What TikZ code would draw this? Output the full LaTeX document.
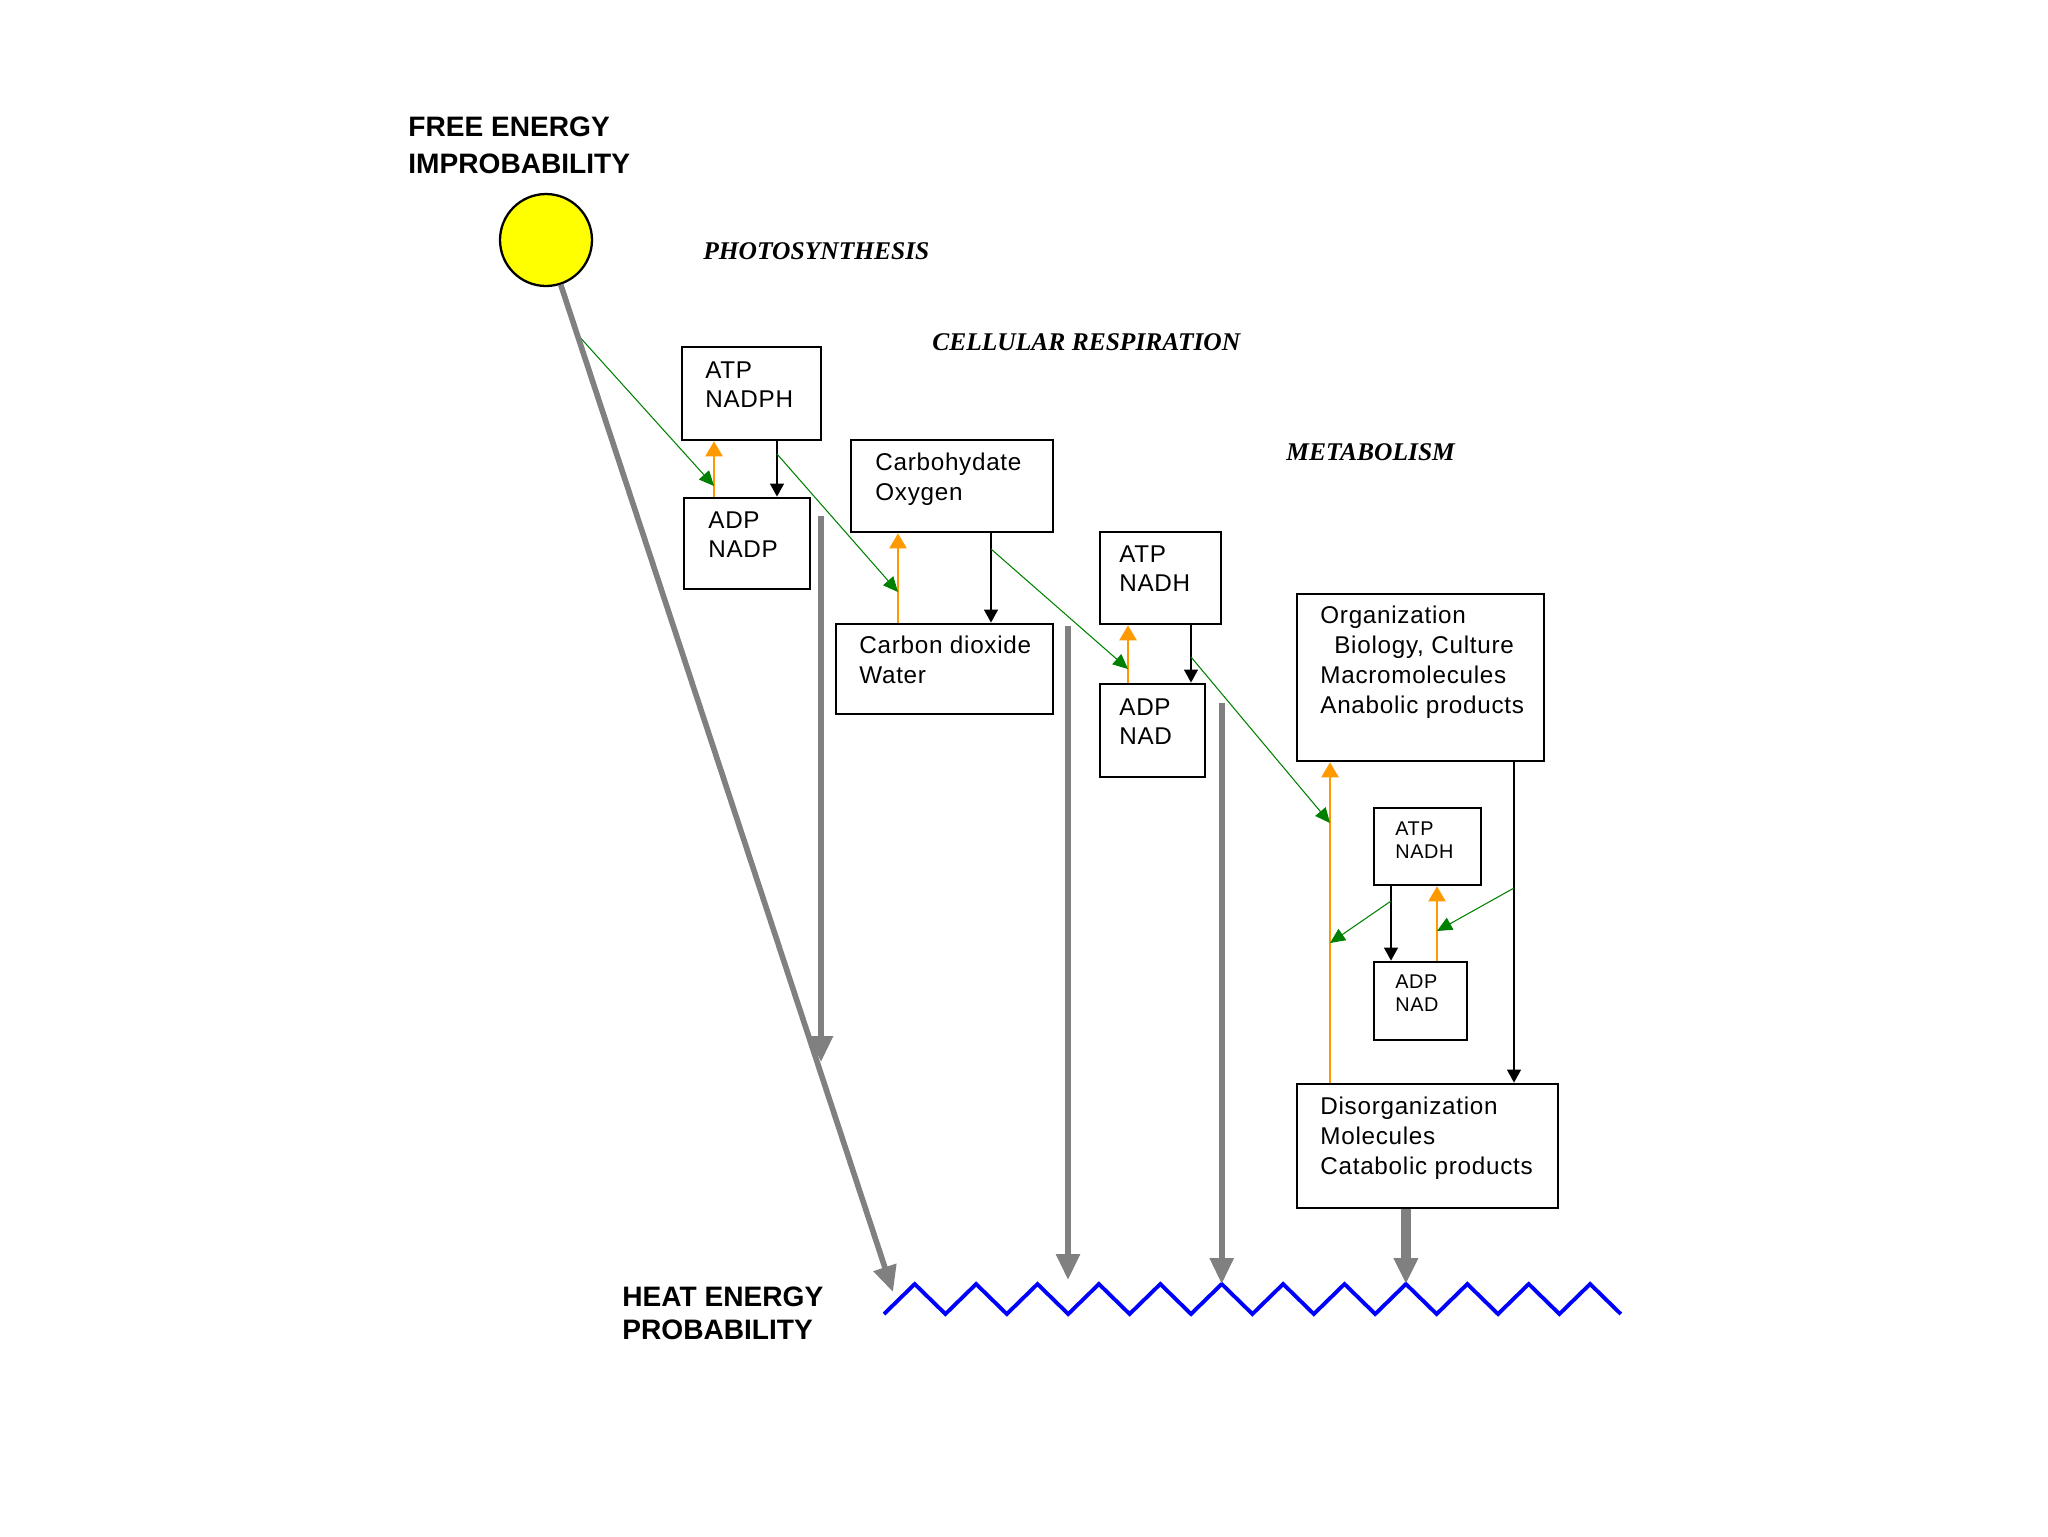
\documentclass[tikz,border=0pt]{standalone}
\usepackage{fontspec}
\setmainfont{Liberation Sans}
\newfontfamily\stageserif{Liberation Serif}
\newfontfamily\boxfont[LetterSpace=3]{Liberation Sans}
\usepackage{tikz}
\usetikzlibrary{arrows.meta}
\usetikzlibrary{fit}

\definecolor{sunyellow}{RGB}{255,255,0}
\definecolor{atporange}{RGB}{255,153,0}
\definecolor{feedgreen}{RGB}{0,128,0}
\definecolor{heatgray}{RGB}{128,128,128}
\definecolor{heatblue}{RGB}{0,0,255}

\begin{document}
\begin{tikzpicture}[x=0.02cm, y=-0.02cm,
	box/.style={draw, line width=1.5pt, inner sep=0pt},
	boxtext/.style={anchor=north west, inner sep=0pt, align=left, font=\boxfont\fontsize{13.8}{17}\selectfont},
	smalltext/.style={anchor=north west, inner sep=0pt, align=left, font=\boxfont\fontsize{11.3}{13.3}\selectfont},
	stage/.style={anchor=west, inner sep=0pt, font=\stageserif\bfseries\itshape\fontsize{14.5}{17}\selectfont},
	energy/.style={anchor=north west, inner sep=0pt, align=left, font=\bfseries\fontsize{16}{20.5}\selectfont},
	up/.style={draw=atporange, line width=1.4pt, -{Triangle[length=0.3cm,width=0.34cm]}},
	down/.style={draw=black, line width=1.4pt, -{Triangle[length=0.26cm,width=0.27cm]}},
	feed/.style={draw=feedgreen, line width=0.6pt, -{Triangle[length=0.3cm,width=0.27cm]}},
	heat/.style={draw=heatgray, line width=3.2pt, -{Triangle[length=0.52cm,width=0.46cm]}},
	zig/.style={draw=heatblue, line width=2.2pt}]
	\useasboundingbox (0,0) rectangle (2048,1536);
	
	% titles
	\node[energy] (free) at (408,117) {FREE ENERGY\\IMPROBABILITY};
	\node[energy, font=\bfseries\fontsize{16}{19.3}\selectfont] (heatlabel) at (622,1286) {HEAT ENERGY\\PROBABILITY};
	\node[stage] (photo) at (703,251) {PHOTOSYNTHESIS};
	\node[stage] (resp) at (932,342) {CELLULAR RESPIRATION};
	\node[stage] (meta) at (1286,452) {METABOLISM};
	
	\node[circle, draw, line width=1.3pt, fill=sunyellow, minimum size=1.84cm, inner sep=0pt] (sun) at (546,240) {};
	
	% boxes
	\node[box, fit={(682,347) (821,440)}] (atpa) {};
	\node[boxtext] (atpatext) at (705,361) {ATP\\NADPH};
	\node[box, fit={(684,498) (810,589)}] (adpa) {};
	\node[boxtext] (adpatext) at (708,511) {ADP\\NADP};
	\node[box, fit={(851,440) (1053,532)}] (carbo) {};
	\node[boxtext] (carbotext) at (875,453) {Carbohydate\\Oxygen};
	\node[box, fit={(836,624) (1053,714)}] (cdiox) {};
	\node[boxtext] (cdioxtext) at (859,636) {Carbon dioxide\\Water};
	\node[box, fit={(1100,532) (1221,624)}] (atpb) {};
	\node[boxtext] (atpbtext) at (1119,545) {ATP\\NADH};
	\node[box, fit={(1100,684) (1205,777)}] (adpb) {};
	\node[boxtext] (adpbtext) at (1119,698) {ADP\\NAD};
	\node[box, fit={(1297,594) (1544,761)}] (org) {};
	\node[boxtext] (orgtext) at (1320,606) {Organization\\\hspace*{0.28cm}Biology, Culture\\Macromolecules\\Anabolic products};
	\node[box, fit={(1374,808) (1481,885)}] (atpc) {};
	\node[smalltext] (atpctext) at (1395,821) {ATP\\NADH};
	\node[box, fit={(1374,962) (1467,1040)}] (adpc) {};
	\node[smalltext] (adpctext) at (1395,974) {ADP\\NAD};
	\node[box, fit={(1297,1084) (1558,1208)}] (disorg) {};
	\node[boxtext] (disorgtext) at (1320,1097) {Disorganization\\Molecules\\Catabolic products};
	
	% columns of the small arrows
	\coordinate (u1) at (714,0);
	\coordinate (u2) at (898,0);
	\coordinate (u3) at (1128,0);
	\coordinate (u4) at (1330,0);
	\coordinate (u5) at (1437,0);
	\coordinate (d1) at (777,0);
	\coordinate (d2) at (991,0);
	\coordinate (d3) at (1191,0);
	\coordinate (d4) at (1514,0);
	\coordinate (d5) at (1391,0);
	
	\draw[up] (adpa.north -| u1) -- (atpa.south -| u1);
	\draw[up] (cdiox.north -| u2) -- (carbo.south -| u2);
	\draw[up] (adpb.north -| u3) -- (atpb.south -| u3);
	\draw[up] (disorg.north -| u4) -- (org.south -| u4);
	\draw[up] (adpc.north -| u5) -- (atpc.south -| u5);
	\draw[down] (atpa.south -| d1) -- (adpa.north -| d1);
	\draw[down] (carbo.south -| d2) -- (cdiox.north -| d2);
	\draw[down] (atpb.south -| d3) -- (adpb.north -| d3);
	\draw[down] (org.south -| d4) -- (disorg.north -| d4);
	\draw[down] (atpc.south -| d5) -- (adpc.north -| d5);
	
	% energy handed on
	\coordinate (f1a) at (577,334);  \coordinate (f1b) at (714,486);
	\coordinate (f2a) at (777,454);  \coordinate (f2b) at (898,592);
	\coordinate (f3a) at (991,549);  \coordinate (f3b) at (1128,669);
	\coordinate (f4a) at (1191,657); \coordinate (f4b) at (1330,823);
	\coordinate (f5a) at (1391,901); \coordinate (f5b) at (1330,943);
	\coordinate (f6a) at (1514,888); \coordinate (f6b) at (1437,931);
	\foreach \i in {1,...,6}
		\draw[feed] (f\i a) -- (f\i b);
	
	% heat
	\draw[zig] (884,1314) \foreach \k in {1,...,12} { -- ++(30.7,-30) -- ++(30.7,30) };
	\coordinate (hit) at (893,1292);
	\coordinate (g1a) at (821,516);    \coordinate (g1b) at (821,1062);
	\coordinate (g2a) at (1068,626);   \coordinate (g2b) at (1068,1280);
	\coordinate (g3a) at (1221.7,703); \coordinate (p5) at (1221.7,1284);
	\coordinate (p8) at (1405.9,1284);
	\draw[heat] (sun) -- (hit);
	\draw[heat] (g1a) -- (g1b);
	\draw[heat] (g2a) -- (g2b);
	\draw[heat] (g3a) -- (p5);
	\draw[heat, line width=5.5pt] (disorg.south -| p8) -- (p8);
\end{tikzpicture}
\end{document}
